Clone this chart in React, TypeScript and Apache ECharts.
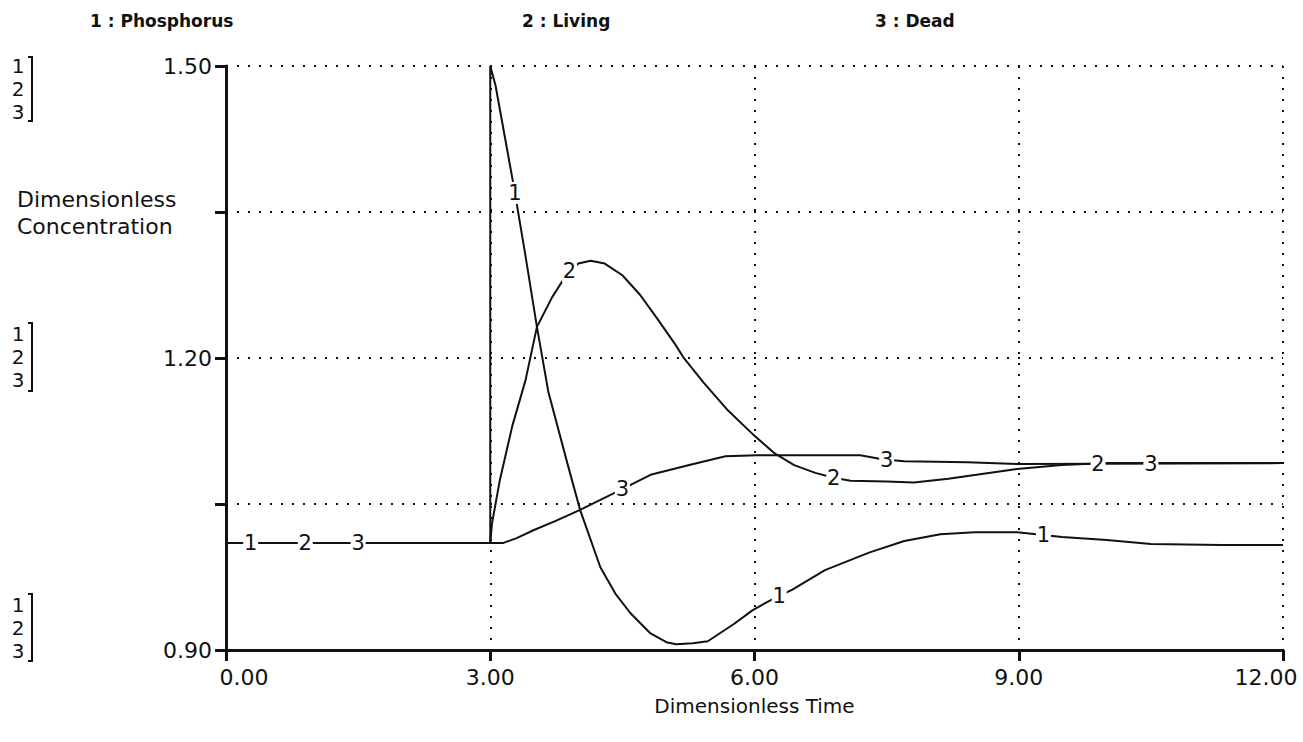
import React, { useEffect, useRef } from "react";
import * as echarts from "echarts";

// ---- data ----
const seriesNames = ["Phosphorus", "Living", "Dead"];

const phosphorus: [number, number][] = [
  [0, 1.01], [3.0, 1.01], [3.0, 1.5], [3.06, 1.48], [3.15, 1.435], [3.27, 1.375],
  [3.4, 1.305], [3.53, 1.232], [3.66, 1.165], [3.875, 1.092], [4.02, 1.044],
  [4.25, 0.985], [4.42, 0.958], [4.59, 0.938], [4.82, 0.917], [5.0, 0.908],
  [5.11, 0.906], [5.3, 0.907], [5.47, 0.909], [5.77, 0.927], [5.98, 0.941],
  [6.2, 0.952], [6.43, 0.962], [6.8, 0.982], [7.3, 1.0], [7.7, 1.012],
  [8.11, 1.019], [8.5, 1.021], [8.98, 1.021], [9.2, 1.019], [9.49, 1.016],
  [10.0, 1.013], [10.5, 1.009], [11.3, 1.008], [12, 1.008],
];

const living: [number, number][] = [
  [0, 1.01], [3.0, 1.01], [3.02, 1.03], [3.11, 1.075], [3.25, 1.13], [3.4, 1.177],
  [3.53, 1.232], [3.7, 1.262], [3.875, 1.287], [4.0, 1.297], [4.14, 1.3],
  [4.3, 1.297], [4.5, 1.285], [4.7, 1.265], [4.9, 1.24], [5.1, 1.214],
  [5.19, 1.201], [5.42, 1.175], [5.7, 1.146], [6.0, 1.12], [6.23, 1.102],
  [6.45, 1.09], [6.69, 1.082], [6.9, 1.077], [7.09, 1.074], [7.5, 1.073],
  [7.81, 1.072], [8.2, 1.076], [8.52, 1.08], [8.98, 1.086], [9.49, 1.09],
  [10.0, 1.092], [12, 1.092],
];

const dead: [number, number][] = [
  [0, 1.01], [3.15, 1.01], [3.3, 1.015], [3.49, 1.023], [3.75, 1.033],
  [4.02, 1.044], [4.4, 1.061], [4.82, 1.08], [5.26, 1.09], [5.67, 1.099],
  [6.03, 1.1], [7.2, 1.1], [7.45, 1.096], [7.7, 1.094], [8.42, 1.093],
  [8.98, 1.091], [12, 1.092],
];

// times at which the curve numbers are written on each curve
const labelTimes: number[][] = [
  [0.28, 3.28, 6.28, 9.28],
  [0.9, 3.9, 6.9, 9.9],
  [1.5, 4.5, 7.5, 10.5],
];

const xMin = 0, xMax = 12, xInterval = 3;
const yMin = 0.9, yMax = 1.5, yInterval = 0.15;
const yLabelEvery = 0.3;

const xTitle = "Dimensionless Time";
const yTitle = "Dimensionless\nConcentration";

// ---- styling ----
const FONT = "'DejaVu Sans', sans-serif";
const INK = "#111";

function valueAt(data: [number, number][], t: number): number {
  for (let i = 0; i < data.length - 1; i++) {
    const [t0, v0] = data[i];
    const [t1, v1] = data[i + 1];
    if (t >= t0 && t <= t1 && t1 > t0) {
      return v0 + ((v1 - v0) * (t - t0)) / (t1 - t0);
    }
  }
  return data[data.length - 1][1];
}

export default function App() {
  const ref = useRef<HTMLDivElement>(null);

  useEffect(() => {
    document.body.style.margin = "0";
    if (!ref.current) return;
    const chart = echarts.init(ref.current, null, { renderer: "svg" });

    const allData = [phosphorus, living, dead];

    const series = allData.map((data, si) => ({
      name: seriesNames[si],
      type: "line",
      data,
      showSymbol: false,
      symbol: "none",
      lineStyle: { color: INK, width: 2 },
      z: 2,
      markPoint: {
        z: 5,
        symbol: "rect",
        symbolSize: [15, 22],
        itemStyle: { color: "#fff" },
        label: {
          show: true,
          position: "inside",
          formatter: String(si + 1),
          color: INK,
          fontSize: 21,
          fontFamily: FONT,
        },
        data: labelTimes[si].map((t) => ({ coord: [t, valueAt(data, t)] })),
      },
    }));

    const tickFont = { fontSize: 22, fontFamily: FONT, color: INK };

    const bracketGroups = [
      { ys: [66, 89, 112], top: 57, bottom: 121 },
      { ys: [334, 357, 380], top: 323, bottom: 391 },
      { ys: [605, 628, 651], top: 594, bottom: 661 },
    ];

    const graphic: any[] = [];
    bracketGroups.forEach((b) => {
      b.ys.forEach((y, i) => {
        graphic.push({
          type: "text",
          x: 18,
          y,
          style: {
            text: String(i + 1),
            fontSize: 20,
            fontFamily: FONT,
            fill: INK,
            align: "center",
            verticalAlign: "middle",
          },
        });
      });
      graphic.push({
        type: "polyline",
        shape: { points: [[28, b.top], [32, b.top], [32, b.bottom], [28, b.bottom]] },
        style: { stroke: INK, lineWidth: 2, fill: "none" },
      });
    });

    const legendX = [90, 522, 875];
    seriesNames.forEach((n, i) => {
      graphic.push({
        type: "text",
        x: legendX[i],
        y: 21,
        style: {
          text: `${i + 1} : ${n}`,
          fontSize: 17,
          fontWeight: "bold",
          fontFamily: FONT,
          fill: INK,
          align: "left",
          verticalAlign: "middle",
        },
      });
    });

    graphic.push({
      type: "text",
      x: 17,
      y: 213,
      style: {
        text: yTitle,
        fontSize: 22,
        lineHeight: 27,
        fontFamily: FONT,
        fill: INK,
        align: "left",
        verticalAlign: "middle",
      },
    });

    chart.setOption({
      animation: false,
      backgroundColor: "#fff",
      grid: { left: 226, right: 20, top: 66, bottom: 92 },
      xAxis: {
        type: "value",
        min: xMin,
        max: xMax,
        interval: xInterval,
        name: xTitle,
        nameLocation: "middle",
        nameGap: 46,
        nameTextStyle: { fontSize: 20, fontFamily: FONT, color: INK },
        axisLine: { show: true, onZero: false, lineStyle: { color: INK, width: 3 } },
        axisTick: { show: true, length: 11, lineStyle: { color: INK, width: 3 } },
        axisLabel: {
          margin: 16,
          ...tickFont,
          formatter: (v: number) => {
            const s = v.toFixed(2);
            if (v === xMin) return `{a|${s}}`;
            if (v === xMax) return `{b|${s}}`;
            return `{n|${s}}`;
          },
          rich: {
            a: { ...tickFont, padding: [0, 0, 0, 36] },
            b: { ...tickFont, padding: [0, 34, 0, 0] },
            n: { ...tickFont },
          },
        },
        splitLine: { show: true, lineStyle: { color: INK, width: 2, type: [2, 9] } },
      },
      yAxis: {
        type: "value",
        min: yMin,
        max: yMax,
        interval: yInterval,
        axisLine: { show: true, onZero: false, lineStyle: { color: INK, width: 3 } },
        axisTick: { show: true, length: 11, lineStyle: { color: INK, width: 3 } },
        axisLabel: {
          margin: 14,
          ...tickFont,
          formatter: (v: number) => {
            const k = (v - yMin) / yLabelEvery;
            return Math.abs(k - Math.round(k)) < 1e-6 ? v.toFixed(2) : "";
          },
        },
        splitLine: { show: true, lineStyle: { color: INK, width: 2, type: [2, 9] } },
      },
      graphic,
      series,
    });

    return () => chart.dispose();
  }, []);

  return <div ref={ref} style={{ width: 1303, height: 742 }} />;
}
